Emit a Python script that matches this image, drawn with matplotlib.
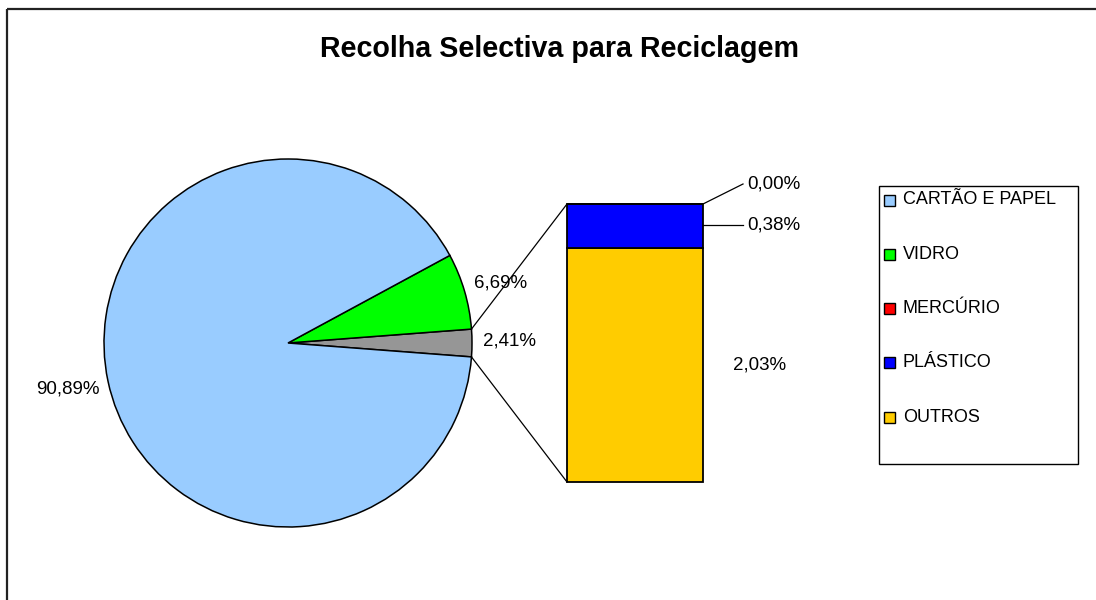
import matplotlib
matplotlib.use("Agg")
import matplotlib.pyplot as plt
from matplotlib.patches import Rectangle
import numpy as np

plt.rcParams['font.family'] = ['Liberation Sans', 'DejaVu Sans']

title = "Recolha Selectiva para Reciclagem"
categories = ["CARTÃO E PAPEL", "VIDRO", "MERCÚRIO", "PLÁSTICO", "OUTROS"]
values = [90.89, 6.69, 0.00, 0.38, 2.03]
colors = ["#99CCFF", "#00FF00", "#FF0000", "#0000FF", "#FFCC00"]
other_color = "#969696"
pie_labels = ["90,89%", "6,69%", "2,41%"]
bar_labels = ["0,00%", "0,38%", "2,03%"]

W, H = 1096, 600
fig = plt.figure(figsize=(W / 100, H / 100), dpi=100)
ax = fig.add_axes([0, 0, 1, 1])

def Y(y):
    return H - y

# ---- pie (main + "other" slice) ----
other = sum(values[2:])
pie_vals = [other, values[1], values[0]]
pie_cols = [other_color, colors[1], colors[0]]
total = sum(pie_vals)
half = 360.0 * other / total / 2.0
cx, cy, r = 288, Y(343), 184
ax.pie(pie_vals, colors=pie_cols, startangle=-half, counterclock=True,
       center=(cx, cy), radius=r,
       wedgeprops=dict(edgecolor="black", linewidth=1.1))

# ---- bar of "other" ----
bx0, bx1 = 567, 703
btop, bbot = Y(204), Y(482)
scale = (btop - bbot) / other
stack = [values[4], values[3], values[2]]          # bottom -> top: OUTROS, PLÁSTICO, MERCÚRIO
stack_cols = [colors[4], colors[3], colors[2]]
bottom = bbot
for v, c in zip(stack, stack_cols):
    ax.bar((bx0 + bx1) / 2, v * scale, width=bx1 - bx0, bottom=bottom,
           color=c, edgecolor="black", linewidth=1.3)
    bottom += v * scale

# connector lines pie -> bar
a = np.radians(half)
ax.plot([cx + r * np.cos(a), bx0], [cy + r * np.sin(a), btop], color="black", lw=0.9)
ax.plot([cx + r * np.cos(-a), bx0], [cy + r * np.sin(-a), bbot], color="black", lw=0.9)

# ---- data labels ----
fs = 13.5
ax.text(68, Y(389), pie_labels[0], ha="center", va="center", fontsize=fs)
ax.text(501, Y(283), pie_labels[1], ha="center", va="center", fontsize=fs)
ax.text(510, Y(341), pie_labels[2], ha="center", va="center", fontsize=fs)
ax.text(747, Y(184), bar_labels[0], ha="left", va="center", fontsize=fs)
ax.text(747, Y(225), bar_labels[1], ha="left", va="center", fontsize=fs)
ax.text(760, Y(365), bar_labels[2], ha="center", va="center", fontsize=fs)
ax.plot([bx1, 743], [btop, Y(184)], color="black", lw=0.9)
ax.plot([bx1, 743], [Y(225), Y(225)], color="black", lw=0.9)

# ---- title ----
ax.text(560, Y(49), title, ha="center", va="center", fontsize=20.6, fontweight="bold")

# ---- legend (manual) ----
ax.add_patch(Rectangle((879, Y(464)), 1078 - 879, 464 - 186, fill=False,
                       edgecolor="black", linewidth=1.0))
ly0, dy = 200, 54.3
for i, (lab, c) in enumerate(zip(categories, colors)):
    yy = ly0 + i * dy
    ax.add_patch(Rectangle((884, Y(yy + 5.5)), 11, 11, facecolor=c,
                           edgecolor="black", linewidth=1.0))
    ax.text(903, Y(yy), lab, ha="left", va="center", fontsize=13)

# ---- outer border (top & left) ----
ax.plot([7, W], [Y(9), Y(9)], color="#222222", lw=1.6, solid_capstyle="butt")
ax.plot([7, 7], [Y(9), 0], color="#222222", lw=1.6, solid_capstyle="butt")

ax.set_xlim(0, W)
ax.set_ylim(0, H)
ax.set_aspect("auto")
ax.axis("off")

fig.savefig("out.png", dpi=100, facecolor="white")
